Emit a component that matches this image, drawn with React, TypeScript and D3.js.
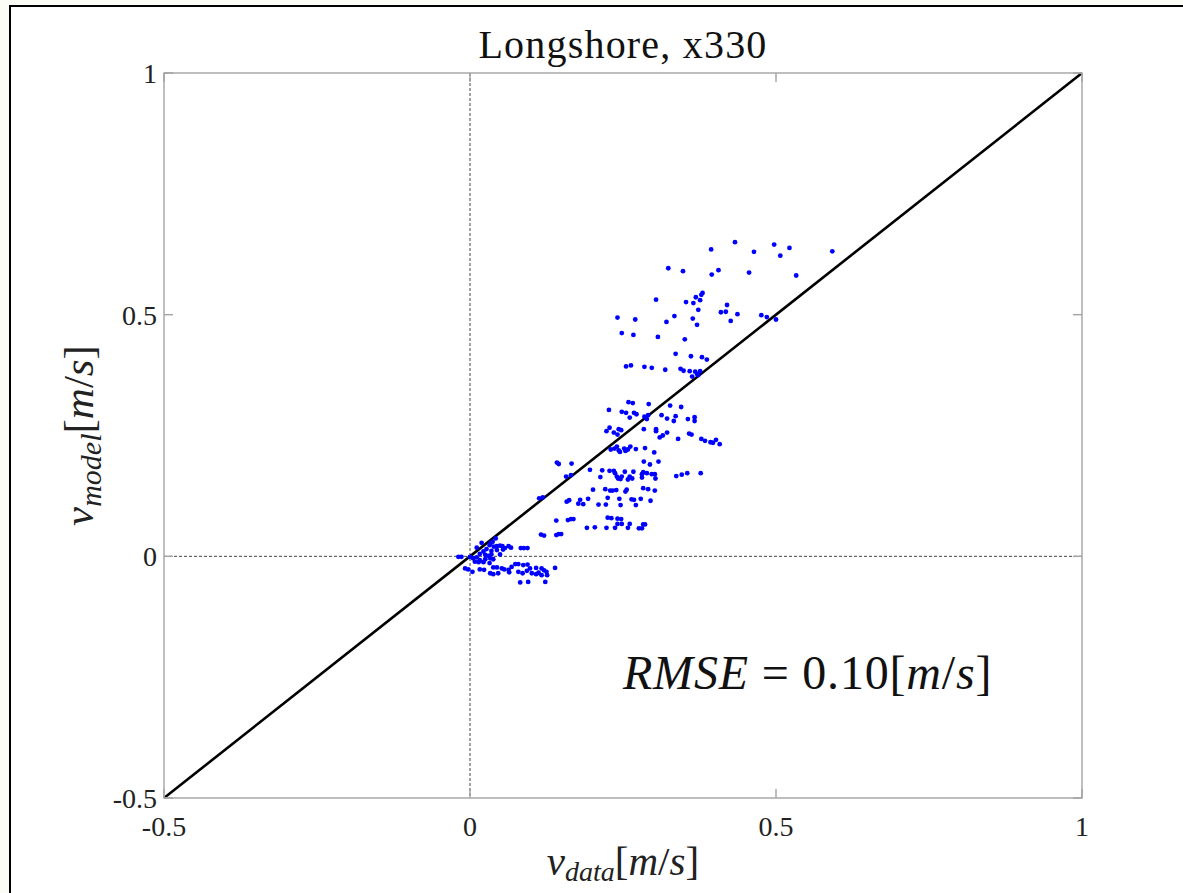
import React from "react";
import * as d3 from "d3";

// observed (x) vs modelled (y) longshore velocity, m/s
const vData = [
  0.394, 0.433, 0.464, 0.497, 0.522, 0.507, 0.592, 0.324, 0.348, 0.395, 0.406, 0.456, 0.533,
  0.304, 0.353, 0.365, 0.369, 0.376, 0.378, 0.380, 0.373, 0.420, 0.410, 0.418, 0.437, 0.426,
  0.476, 0.485, 0.500, 0.241, 0.270, 0.321, 0.334, 0.364, 0.371, 0.248, 0.267, 0.307, 0.351,
  0.336, 0.361, 0.379, 0.387, 0.255, 0.263, 0.285, 0.297, 0.319, 0.344, 0.349, 0.359, 0.368,
  0.376, 0.371, 0.363, 0.373, 0.227, 0.248, 0.255, 0.259, 0.266, 0.268, 0.272, 0.292, 0.261,
  0.285, 0.291, 0.289, 0.313, 0.327, 0.345, 0.322, 0.336, 0.333, 0.356, 0.367, 0.367, 0.228,
  0.243, 0.284, 0.304, 0.223, 0.235, 0.247, 0.241, 0.304, 0.322, 0.315, 0.310, 0.340, 0.358,
  0.362, 0.378, 0.384, 0.393, 0.397, 0.402, 0.408, 0.230, 0.236, 0.240, 0.243, 0.245, 0.252,
  0.254, 0.258, 0.262, 0.271, 0.286, 0.301, 0.142, 0.145, 0.166, 0.196, 0.216, 0.228, 0.235,
  0.237, 0.240, 0.242, 0.246, 0.248, 0.253, 0.258, 0.261, 0.267, 0.265, 0.281, 0.281, 0.284,
  0.294, 0.283, 0.289, 0.297, 0.302, 0.303, 0.308, 0.337, 0.346, 0.355, 0.377, 0.157, 0.165,
  0.213, 0.201, 0.221, 0.229, 0.233, 0.239, 0.254, 0.256, 0.283, 0.291, 0.302, 0.113, 0.119,
  0.158, 0.162, 0.177, 0.180, 0.185, 0.193, 0.210, 0.222, 0.225, 0.244, 0.246, 0.264, 0.268,
  0.271, 0.279, 0.295, 0.141, 0.160, 0.165, 0.169, 0.225, 0.231, 0.241, 0.247, 0.248, 0.241,
  0.261, 0.283, 0.286, 0.191, 0.204, 0.223, 0.237, 0.258, 0.276, 0.281, 0.116, 0.121, 0.141,
  0.145, 0.149,
  0.019, 0.011, 0.032, 0.037, 0.039, 0.044, 0.049, 0.053, 0.057, 0.063, 0.067, 0.054, 0.044,
  0.027, 0.035, 0.022, 0.083, 0.088, 0.094, 0.016, 0.025, 0.030, 0.011, 0.005, 0.000, -0.019,
  -0.014, 0.016, 0.025, 0.033, 0.038, 0.049, 0.035, 0.008, 0.014, 0.022, 0.032, -0.008, -0.003,
  0.004, 0.016, 0.023, 0.038, 0.044, 0.052, 0.056, 0.063, 0.068, 0.074, 0.079, 0.087, 0.094,
  0.098, 0.093, 0.108, 0.117, 0.121, 0.125, 0.139, 0.033, 0.038, 0.046, 0.064, 0.079, 0.086,
  0.101, 0.108, 0.112, 0.117, 0.126, 0.082, 0.095, 0.123, 0.042, 0.034,
];

const vModel = [
  0.635, 0.650, 0.630, 0.645, 0.638, 0.622, 0.631, 0.596, 0.590, 0.583, 0.592, 0.587, 0.581,
  0.531, 0.526, 0.524, 0.536, 0.530, 0.541, 0.545, 0.510, 0.520, 0.505, 0.506, 0.501, 0.487,
  0.499, 0.495, 0.490, 0.494, 0.490, 0.485, 0.497, 0.492, 0.479, 0.462, 0.458, 0.454, 0.449,
  0.419, 0.414, 0.412, 0.407, 0.393, 0.395, 0.392, 0.390, 0.386, 0.388, 0.384, 0.383, 0.382,
  0.383, 0.377, 0.372, 0.375, 0.303, 0.299, 0.297, 0.319, 0.317, 0.297, 0.294, 0.315, 0.287,
  0.289, 0.292, 0.284, 0.292, 0.312, 0.309, 0.285, 0.290, 0.280, 0.284, 0.288, 0.280, 0.266,
  0.263, 0.263, 0.263, 0.259, 0.256, 0.261, 0.252, 0.259, 0.256, 0.250, 0.246, 0.243, 0.254,
  0.252, 0.243, 0.239, 0.236, 0.235, 0.241, 0.232, 0.221, 0.223, 0.227, 0.219, 0.216, 0.223,
  0.218, 0.221, 0.227, 0.222, 0.224, 0.215, 0.194, 0.191, 0.192, 0.179, 0.178, 0.177, 0.177,
  0.172, 0.165, 0.161, 0.160, 0.165, 0.175, 0.159, 0.165, 0.175, 0.161, 0.170, 0.163, 0.196,
  0.190, 0.174, 0.172, 0.170, 0.170, 0.161, 0.196, 0.166, 0.169, 0.172, 0.172, 0.165, 0.168,
  0.164, 0.138, 0.139, 0.136, 0.136, 0.137, 0.134, 0.138, 0.141, 0.139, 0.136, 0.120, 0.122,
  0.113, 0.116, 0.109, 0.117, 0.108, 0.119, 0.107, 0.107, 0.121, 0.119, 0.106, 0.118, 0.117,
  0.106, 0.119, 0.115, 0.074, 0.075, 0.077, 0.077, 0.080, 0.079, 0.078, 0.077, 0.067, 0.067,
  0.067, 0.066, 0.066, 0.059, 0.060, 0.059, 0.059, 0.059, 0.058, 0.058, 0.045, 0.043, 0.044,
  0.046, 0.046,
  0.028, 0.018, 0.023, 0.030, 0.020, 0.021, 0.022, 0.021, 0.017, 0.021, 0.018, 0.014, 0.013,
  0.015, 0.011, 0.010, 0.017, 0.017, 0.017, 0.005, 0.003, 0.001, -0.002, -0.004, -0.001, -0.001,
  -0.001, -0.008, -0.006, -0.004, -0.006, 0.004, 0.004, -0.011, -0.012, -0.012, -0.014, -0.025,
  -0.027, -0.032, -0.027, -0.028, -0.023, -0.023, -0.025, -0.027, -0.028, -0.022, -0.016, -0.016,
  -0.018, -0.017, -0.025, -0.030, -0.024, -0.025, -0.029, -0.032, -0.024, -0.035, -0.037, -0.035,
  -0.033, -0.032, -0.035, -0.035, -0.037, -0.034, -0.039, -0.039, -0.054, -0.053, -0.053, 0.037,
  0.028,
];

const ticks = [-0.5, 0, 0.5, 1];
const tickLabels = ["-0.5", "0", "0.5", "1"];
const rmse = "0.10";

const width = 1183;
const height = 893;
const margin = { top: 73, right: 101, bottom: 95, left: 164 };
const serif = "'Liberation Serif', 'DejaVu Serif', serif";
const axisColor = "#a3a3a3";

export default function App() {
  const x = d3.scaleLinear().domain([-0.5, 1]).range([margin.left, width - margin.right]);
  const y = d3.scaleLinear().domain([-0.5, 1]).range([height - margin.bottom, margin.top]);
  const [x0, x1] = x.range();
  const [y0, y1] = y.range();
  const tickLen = 9;

  const pts = vData.map((d, i) => [d, vModel[i]]);

  return (
    <svg width={width} height={height} style={{ position: "absolute", left: 0, top: 0 }}>
      <rect width={width} height={height} fill="#fcfcf6" />
      <rect x={10} y={6} width={width + 20} height={height + 20} fill="#fff" stroke="#000" strokeWidth={2} />

      {/* zero lines */}
      <line x1={x(0)} x2={x(0)} y1={y1} y2={y0} stroke="#444" strokeWidth={1} strokeDasharray="3 2" />
      <line x1={x0} x2={x1} y1={y(0)} y2={y(0)} stroke="#444" strokeWidth={1} strokeDasharray="3 2" />

      {/* 1:1 line */}
      <line x1={x(-0.5)} y1={y(-0.5)} x2={x(1)} y2={y(1)} stroke="#000" strokeWidth={2.6} />

      {/* scatter */}
      <g fill="#0000ff">
        {pts.map((p, i) => (
          <circle key={i} cx={x(p[0])} cy={y(p[1])} r={2.4} />
        ))}
      </g>

      {/* axes box + ticks */}
      <rect x={x0} y={y1} width={x1 - x0} height={y0 - y1} fill="none" stroke={axisColor} strokeWidth={1.4} />
      <g stroke={axisColor} strokeWidth={1.4}>
        {ticks.map((t) => (
          <g key={t}>
            <line x1={x(t)} x2={x(t)} y1={y0} y2={y0 - tickLen} />
            <line x1={x(t)} x2={x(t)} y1={y1} y2={y1 + tickLen} />
            <line x1={x0} x2={x0 + tickLen} y1={y(t)} y2={y(t)} />
            <line x1={x1} x2={x1 - tickLen} y1={y(t)} y2={y(t)} />
          </g>
        ))}
      </g>

      <g fontFamily={serif} fontSize={28} fill="#222">
        {ticks.map((t, i) => (
          <text key={"x" + t} x={x(t)} y={y0 + 38} textAnchor="middle">
            {tickLabels[i]}
          </text>
        ))}
        {ticks.map((t, i) => (
          <text key={"y" + t} x={x0 - 7} y={y(t) + 10} textAnchor="end">
            {tickLabels[i]}
          </text>
        ))}
      </g>

      {/* title */}
      <text x={(x0 + x1) / 2} y={58} textAnchor="middle" fontFamily={serif} fontSize={40} letterSpacing={1.2} fill="#111">
        Longshore, x330
      </text>

      {/* x label */}
      <text x={(x0 + x1) / 2} y={875} textAnchor="middle" fontFamily={serif} fontSize={41} fill="#222">
        <tspan fontStyle="italic">v</tspan>
        <tspan fontStyle="italic" fontSize={28} dy={6}>data</tspan>
        <tspan dy={-6}>[</tspan>
        <tspan fontStyle="italic">m</tspan>
        <tspan>/</tspan>
        <tspan fontStyle="italic">s</tspan>
        <tspan>]</tspan>
      </text>

      {/* y label */}
      <text
        transform={`translate(93, ${(y0 + y1) / 2}) rotate(-90)`}
        textAnchor="middle"
        fontFamily={serif}
        fontSize={43}
        fill="#222"
      >
        <tspan fontStyle="italic">v</tspan>
        <tspan fontStyle="italic" fontSize={30} dy={8}>model</tspan>
        <tspan dy={-8}>[</tspan>
        <tspan fontStyle="italic">m</tspan>
        <tspan>/</tspan>
        <tspan fontStyle="italic">s</tspan>
        <tspan>]</tspan>
      </text>

      {/* RMSE annotation */}
      <text x={x(0.25)} y={y(-0.275)} fontFamily={serif} fontSize={48} letterSpacing={0.8} fill="#111">
        <tspan fontStyle="italic">RMSE</tspan>
        <tspan> = {rmse}[</tspan>
        <tspan fontStyle="italic">m</tspan>
        <tspan>/</tspan>
        <tspan fontStyle="italic">s</tspan>
        <tspan>]</tspan>
      </text>
    </svg>
  );
}
